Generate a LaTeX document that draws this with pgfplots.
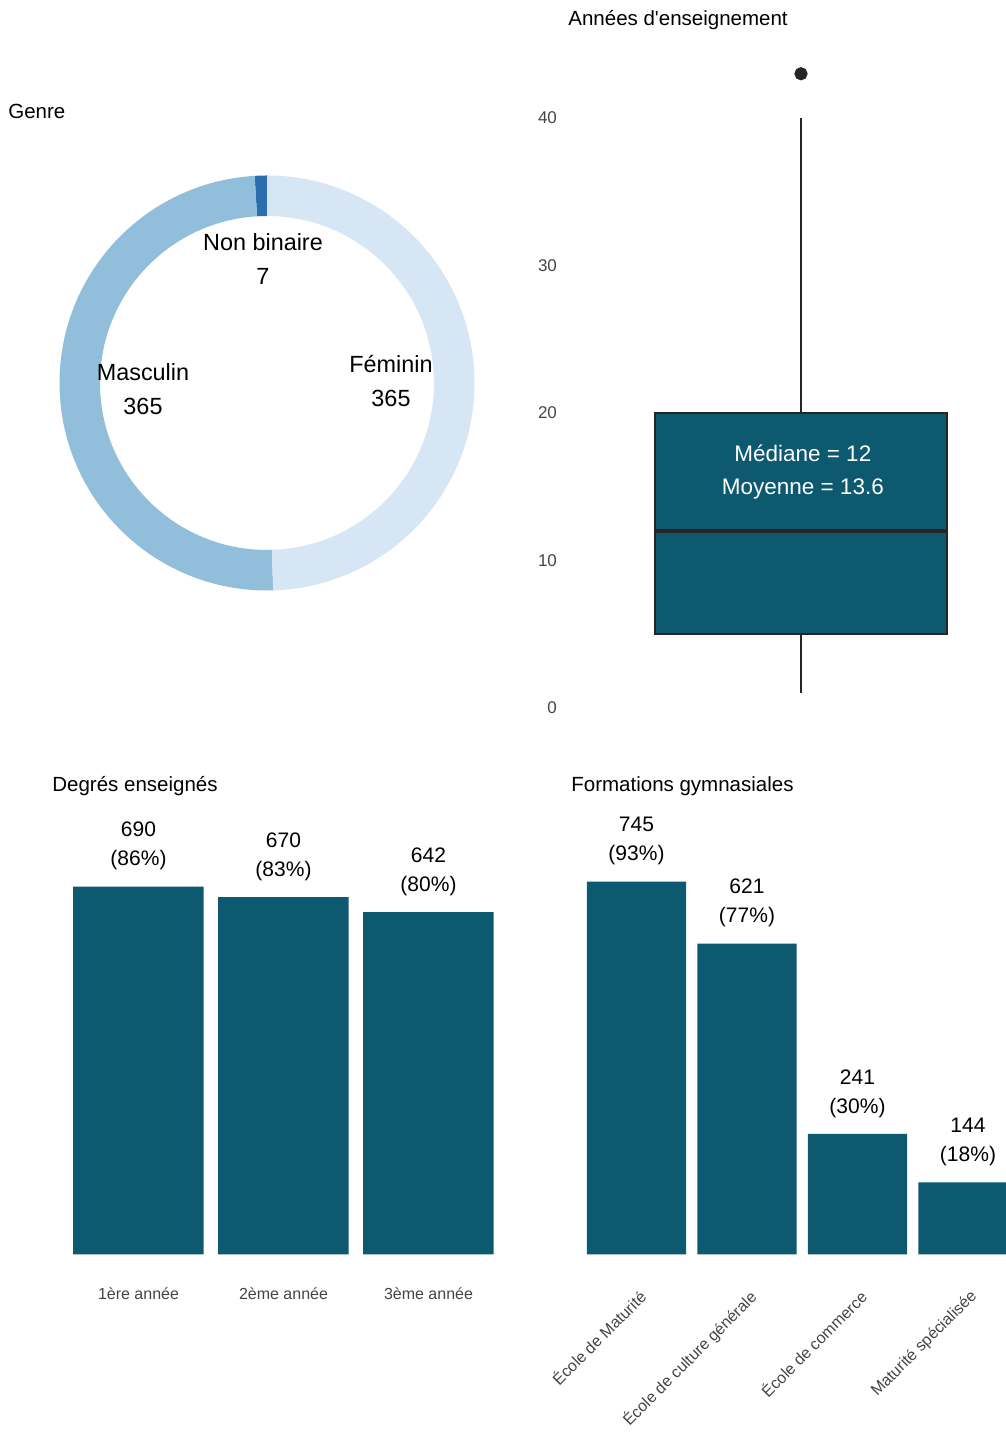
\documentclass[border=0pt]{standalone}
\usepackage{fontspec}
\setmainfont{Liberation Sans}[Ligatures=TeXOff]
\usepackage{pgfplots}
\usepackage{pgfplotstable}
\pgfplotsset{compat=1.18}
\usepgfplotslibrary{statistics}

\definecolor{barteal}{RGB}{13,89,112}
\definecolor{boxline}{RGB}{38,38,38}
\definecolor{ticktext}{RGB}{68,68,68}
\definecolor{genreF}{RGB}{214,230,244}
\definecolor{genreM}{RGB}{145,191,219}
\definecolor{genreN}{RGB}{42,110,176}

% genre counts (drawn counter-clockwise from the top)
\pgfplotstableread{
genre n
NonBinaire 7
Masculin 365
Feminin 365
}\genretab

\pgfplotstableread{
x n pct
0 690 86
1 670 83
2 642 80
}\degres

\pgfplotstableread{
x n pct
0 745 93
1 621 77
2 241 30
3 144 18
}\formations

\pgfplotstablegetelem{0}{n}\of\genretab \edef\nN{\pgfplotsretval}%
\pgfplotstablegetelem{1}{n}\of\genretab \edef\nM{\pgfplotsretval}%
\pgfplotstablegetelem{2}{n}\of\genretab \edef\nF{\pgfplotsretval}%
\pgfmathsetmacro\tot{\nN+\nM+\nF}%
\pgfmathsetmacro\aA{90}%
\pgfmathsetmacro\aB{90+360*(\nN/\tot)}%
\pgfmathsetmacro\aC{\aB+360*(\nM/\tot)}%
\pgfmathsetmacro\aD{450}%

% ring sector: colour, start angle, end angle
\newcommand\ringsector[3]{%
  \fill[#1] (axis cs:0,0) ++(#2:103.75pt) arc[start angle=#2,end angle=#3,radius=103.75pt]
    -- ++(#3:-20.25pt) arc[start angle=#3,end angle=#2,radius=83.5pt] -- cycle;}

\pgfplotsset{
  /pgf/number format/assume math mode=true,
  barchart/.style={
    scale only axis, ybar, bar width=0.9, ymin=0,
    axis line style={draw=none}, major tick style={draw=none},
    ytick=\empty, xtick=data, clip mode=individual,
    tick label style={font=\fontsize{8}{10}\selectfont, text=ticktext},
    visualization depends on={\thisrow{pct} \as \pct},
    nodes near coords={\pgfmathprintnumber{\pgfplotspointmeta}\\(\pgfmathprintnumber[fixed,precision=0]{\pct}\%)},
    every node near coord/.append style={align=center, anchor=south, inner sep=0pt,
      yshift=8pt, font=\fontsize{10.5}{14.5}\selectfont, text=black},
  },
}

\begin{document}
\begin{tikzpicture}
\useasboundingbox (0,0) rectangle (503pt,718.5pt);

% ---------- Genre ----------
\node[anchor=base west, inner sep=0pt, font=\fontsize{10.25}{12}\selectfont] at (4pt,659pt) {Genre};
\begin{axis}[
  at={(28.5pt,422pt)}, anchor=south west,
  scale only axis, width=210pt, height=210pt,
  xmin=-210, xmax=210, ymin=-210, ymax=210,
  hide axis, clip=false,
]
  \ringsector{genreN}{\aA}{\aB}
  \ringsector{genreM}{\aB}{\aC}
  \ringsector{genreF}{\aC}{\aD}
  \begin{scope}[every node/.style={align=center, font=\fontsize{11.7}{17}\selectfont}]
    \node at (axis cs:-4,124) {Non binaire\\\nN};
    \node at (axis cs:-124,-6) {Masculin\\\nM};
    \node at (axis cs:124,2) {Féminin\\\nF};
  \end{scope}
\end{axis}

% ---------- Années d'enseignement ----------
\node[anchor=base west, inner sep=0pt, font=\fontsize{10.25}{12}\selectfont] at (284pt,705.5pt) {Années d'enseignement};
\begin{axis}[
  at={(291pt,364.5pt)}, anchor=south west,
  scale only axis, width=211.7pt, height=331.875pt,
  xmin=-0.6, xmax=0.56, ymin=0, ymax=45,
  axis line style={draw=none}, major tick style={draw=none},
  xtick=\empty, ytick={0,10,20,30,40},
  yticklabel style={font=\fontsize{8.5}{10}\selectfont, text=ticktext, xshift=-9pt},
  boxplot/draw direction=y,
  clip=false,
]
  \addplot[boxplot prepared={median=12, lower quartile=5, upper quartile=20,
      lower whisker=1, upper whisker=40, draw position=0, box extend=0.8, whisker extend=0},
    fill=barteal, draw=boxline, line width=1pt,
    boxplot/every median/.style={line width=2.2pt},
    mark=*, mark size=2.8pt, mark options={fill=boxline, draw=boxline}]
    coordinates {(0,43)};
  \node[align=center, text=white, font=\fontsize{11.25}{16.5}\selectfont]
    at (axis cs:0.005,16.03) {Médiane = 12\\Moyenne = 13.6};
\end{axis}

% ---------- Degrés enseignés ----------
\node[anchor=base west, inner sep=0pt, font=\fontsize{10.25}{12}\selectfont] at (26pt,322.5pt) {Degrés enseignés};
\begin{axis}[
  barchart,
  at={(25.75pt,91.25pt)}, anchor=south west,
  width=232pt, height=221.3pt,
  xmin=-0.6, xmax=2.6, ymax=830,
  xticklabels={1ère année, 2ème année, 3ème année},
  xticklabel style={yshift=-9pt},
]
  \addplot[fill=barteal, draw=none] table[x=x, y=n] {\degres};
\end{axis}

% ---------- Formations gymnasiales ----------
\node[anchor=base west, inner sep=0pt, font=\fontsize{10.25}{12}\selectfont] at (285.5pt,322.5pt) {Formations gymnasiales};
\begin{axis}[
  barchart,
  at={(285.1pt,91.25pt)}, anchor=south west,
  width=217.9pt, height=225.3pt,
  xmin=-0.6, xmax=3.344, ymax=900,
  xticklabels={École de Maturité, École de culture générale, École de commerce, Maturité spécialisée},
  xticklabel style={xshift=0.5pt, yshift=-12.5pt, rotate=45, anchor=north east, inner sep=0pt},
]
  \addplot[fill=barteal, draw=none] table[x=x, y=n] {\formations};
\end{axis}
\end{tikzpicture}
\end{document}
